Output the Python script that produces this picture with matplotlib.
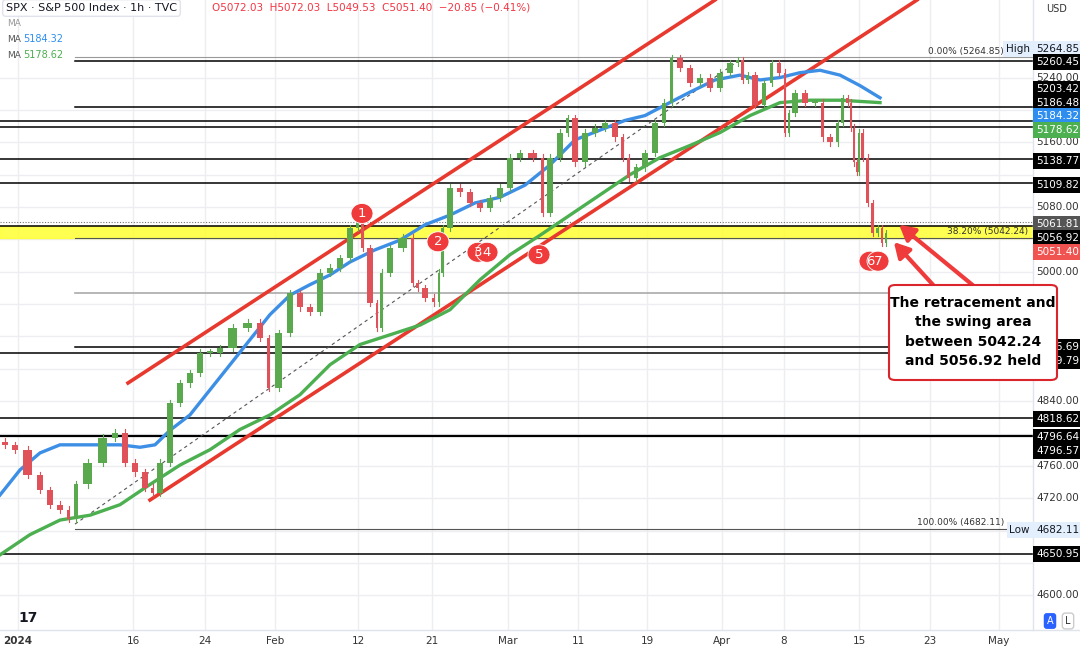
import matplotlib
matplotlib.use("Agg")
import matplotlib.pyplot as plt
from matplotlib.patches import FancyBboxPatch, Ellipse

# x unit = chart slot (about one pixel of the TradingView time axis)
path_x = [0, 10, 20, 35, 45, 55, 65, 72, 80, 95, 110, 120, 130, 140, 150, 155, 165, 175, 185, 195,
          205, 215, 225, 240, 255, 265, 272, 285, 295, 305, 315, 325, 335, 345, 355, 360, 365, 375,
          378, 385, 395, 410, 415, 420, 430, 437, 440, 445, 455, 465, 475, 485, 495, 505, 515, 525,
          540, 545, 555, 565, 570, 580, 590, 600, 610, 620, 625, 632, 640, 650, 660, 668, 675, 685,
          695, 705, 715, 725, 735, 740, 745, 750, 760, 768, 775, 783, 787, 790, 800, 810, 820, 825,
          835, 840, 845, 850, 852, 855, 858, 860, 865, 870, 875, 880, 884, 888]
path_price = [4790, 4786, 4780, 4749, 4730, 4712, 4706, 4694, 4737, 4764, 4795, 4801, 4764, 4752, 4733,
              4727, 4764, 4838, 4862, 4875, 4900, 4900, 4906, 4931, 4937, 4918, 4856, 4924, 4974, 4956,
              4950, 4999, 5005, 5017, 5054, 5060, 5029, 4961, 4931, 4999, 5029, 5042, 4986, 4980, 4968,
              4962, 4999, 5054, 5104, 5098, 5085, 5079, 5091, 5104, 5141, 5147, 5141, 5073, 5141, 5172,
              5190, 5135, 5172, 5178, 5184, 5166, 5141, 5116, 5129, 5147, 5184, 5209, 5264, 5252, 5233,
              5240, 5227, 5246, 5258, 5262, 5237, 5243, 5206, 5233, 5258, 5246, 5172, 5196, 5221, 5209,
              5209, 5166, 5160, 5184, 5215, 5209, 5178, 5135, 5123, 5172, 5141, 5085, 5048, 5054, 5036,
              5048]

ma100_x = [0, 20, 40, 60, 80, 100, 120, 140, 155, 170, 190, 210, 230, 250, 270, 290, 310, 330, 350,
           375, 400, 425, 450, 475, 500, 525, 550, 575, 600, 625, 645, 665, 690, 715, 740, 760, 780,
           800, 820, 840, 860, 880]
ma100 = [4724, 4755, 4776, 4786, 4786, 4786, 4786, 4783, 4786, 4804, 4823, 4854, 4885, 4916, 4947,
         4971, 4984, 4996, 5012, 5027, 5039, 5058, 5070, 5085, 5092, 5107, 5132, 5163, 5175, 5187,
         5193, 5206, 5222, 5237, 5243, 5237, 5240, 5246, 5249, 5243, 5230, 5215]
ma200_x = [0, 30, 60, 90, 120, 150, 180, 210, 240, 270, 300, 330, 360, 390, 420, 450, 480, 510, 540,
           570, 600, 630, 660, 690, 720, 750, 780, 810, 840, 880]
ma200 = [4650, 4675, 4693, 4699, 4712, 4737, 4761, 4780, 4805, 4823, 4848, 4885, 4910, 4922, 4934,
         4953, 4990, 5021, 5045, 5070, 5095, 5120, 5141, 5156, 5172, 5193, 5209, 5212, 5212, 5209]

level_lines = [5260.45, 5203.42, 5186.48, 5178.62, 5138.77, 5109.82, 5056.92,
               4906.69, 4899.79, 4818.62, 4796.64, 4650.95]
fib_high, fib_low = 5264.85, 4682.11
fib_382 = 5042.24
fib_50 = 4973.48
last_close = 5061.81

date_ticks = [18, 133, 205, 275, 358, 432, 508, 578, 647, 722, 784, 859, 930, 999]
date_labels = ["2024", "16", "24", "Feb", "12", "21", "Mar", "11", "19", "Apr", "8", "15", "23", "May"]

axis_ticks = list(range(4600, 5241, 40))
price_tags = [(5264.85, "5264.85", "#e3effd", "#131722"), (5260.45, "5260.45", "black", "white"),
              (5203.42, "5203.42", "black", "white"), (5186.48, "5186.48", "black", "white"),
              (5184.32, "5184.32", "#2d8ef0", "white"), (5178.62, "5178.62", "#4caf50", "white"),
              (5138.77, "5138.77", "black", "white"), (5109.82, "5109.82", "black", "white"),
              (5061.81, "5061.81", "#555555", "white"), (5056.92, "5056.92", "black", "white"),
              (5051.40, "5051.40", "#f05350", "white"), (4906.69, "4906.69", "black", "white"),
              (4899.79, "4899.79", "black", "white"), (4818.62, "4818.62", "black", "white"),
              (4796.64, "4796.64", "black", "white"), (4796.57, "4796.57", "black", "white"),
              (4682.11, "4682.11", "#e3effd", "#131722"), (4650.95, "4650.95", "black", "white")]
tag_pix = [49, 62, 89, 103, 116, 130, 161, 185, 224, 238, 252, 347, 361, 419, 437, 451, 530, 554]

markers = [(362, 5072, "1"), (438, 5037, "2"), (478, 5024, "3"), (487, 5024, "4"),
           (539, 5021, "5"), (870, 5013, "6"), (878, 5013, "7")]

W, H = 1080, 651
fig = plt.figure(figsize=(W / 100, H / 100), dpi=100)
ax = fig.add_axes([0, 21 / H, 1033 / W, 630 / H])
y_top = 5260.45 + 61 / 0.809
y_bot = 5260.45 - 569 / 0.809
ax.set_xlim(0, 1033)
ax.set_ylim(y_bot, y_top)
for s in ax.spines.values():
    s.set_visible(False)
ax.set_xticks([]); ax.set_yticks([])

for t in date_ticks:
    ax.axvline(t, color="#eceef2", lw=1, zorder=0)
for t in axis_ticks:
    ax.axhline(t, color="#eceef2", lw=1, zorder=0)

# yellow swing zone
ax.axhspan(fib_382, 5056.92, color="#ffff33", alpha=0.85, zorder=1)

for lv in level_lines:
    x0 = 75 if lv in (5260.45, 5203.42, 4906.69) else 0
    ax.plot([x0, 1033], [lv, lv], color="black", lw=1.6 if lv == 4796.64 else 1.1, zorder=2)
ax.plot([75, 1033], [fib_high, fib_high], color="#999999", lw=0.8, zorder=2)
ax.plot([75, 1033], [fib_low, fib_low], color="#555555", lw=0.8, zorder=2)
ax.plot([75, 1033], [fib_382, fib_382], color="#555555", lw=0.8, zorder=2)
ax.plot([75, 1033], [fib_50, fib_50], color="#aaaaaa", lw=1.2, zorder=2)
ax.plot([0, 1033], [last_close, last_close], color="#777777", lw=0.8, ls=(0, (1, 1.5)), zorder=2)
ax.text(1004, fib_high + 2, "0.00% (5264.85)", fontsize=6.5, ha="right", va="bottom", color="#333", zorder=3)
ax.text(1028, fib_382 + 2, "38.20% (5042.24)", fontsize=6.5, ha="right", va="bottom", color="#333", zorder=3)
ax.text(1004, fib_low + 2, "100.00% (4682.11)", fontsize=6.5, ha="right", va="bottom", color="#333", zorder=3)

# fib diagonal
ax.plot([75, 740], [4688, 5262], color="#555555", lw=0.8, ls=(0, (3, 3)), zorder=2)

# channel lines (price coords from pixel reads)
def py(y):
    return 5260.45 - (y - 61) / 0.809
ax.plot([128, 715], [py(383), py(0)], color="#e8392f", lw=2.6, zorder=3)
ax.plot([150, 917], [py(500), py(0)], color="#e8392f", lw=2.6, zorder=3)

# moving averages
ax.plot(ma100_x, ma100, color="#3d8fe6", lw=2.4, zorder=4)
ax.plot(ma200_x, ma200, color="#4caf50", lw=2.4, zorder=4)

# candles
for i in range(1, len(path_x)):
    o, c = path_price[i - 1], path_price[i]
    x = (path_x[i - 1] + path_x[i]) / 2
    wd = max((path_x[i] - path_x[i - 1]) * 0.55, 2)
    col = "#5aa94f" if c >= o else "#e0525a"
    hi, lo = max(o, c) + 4, min(o, c) - 4
    ax.plot([x, x], [lo, hi], color=col, lw=0.8, zorder=5)
    ax.bar(x, max(abs(c - o), 1.5), bottom=min(o, c), width=wd, color=col, zorder=5)

for x, y, s in markers:
    ax.add_patch(Ellipse((x, y), 22, 20 / 0.809, fc="#ef3b3b", ec="white", lw=0.6, zorder=7))
    ax.text(x, y, s, color="white", fontsize=9.5, ha="center", va="center", zorder=8)

# callout
ax.annotate("", xy=(897, py(223)), xytext=(975, py(287)),
            arrowprops=dict(arrowstyle="-|>,head_width=0.5,head_length=0.9", color="#ef3b3b", lw=3), zorder=9)
ax.annotate("", xy=(892, py(240)), xytext=(935, py(287)),
            arrowprops=dict(arrowstyle="-|>,head_width=0.5,head_length=0.9", color="#ef3b3b", lw=3), zorder=9)

# right price axis
fig.add_artist(plt.Line2D([1033 / W, 1033 / W], [21 / H, 1], color="#e0e3eb", lw=1))
fig.add_artist(plt.Line2D([0, 1], [21 / H, 21 / H], color="#e0e3eb", lw=1))
for t in axis_ticks:
    yp = 61 + (5260.45 - t) * 0.809
    if min(abs(yp - p) for p in tag_pix) < 11 or 280 < yp < 385:
        continue
    fig.text(1036 / W, 1 - yp / H, f"{t:.2f}", fontsize=7.5, color="#333", va="center", ha="left")
for (v, lab, bg, fg), yp in zip(price_tags, tag_pix):
    fig.text(1036 / W, 1 - yp / H, lab, fontsize=7.5, color=fg, va="center", ha="left", zorder=5,
             bbox=dict(boxstyle="square,pad=0.25", fc=bg, ec="none"))
fig.text(1030 / W, 1 - 49 / H, "High", fontsize=7.5, color="#131722", va="center", ha="right",
         bbox=dict(boxstyle="square,pad=0.25", fc="#e3effd", ec="none"))
fig.text(1030 / W, 1 - 530 / H, "Low", fontsize=7.5, color="#131722", va="center", ha="right",
         bbox=dict(boxstyle="square,pad=0.25", fc="#e3effd", ec="none"))

fig.patches.append(FancyBboxPatch((889 / W, 1 - 380 / H), 168 / W, 95 / H,
                                  boxstyle="round,pad=0,rounding_size=0.006", transform=fig.transFigure,
                                  fc="white", ec="#d9252b", lw=1.5, zorder=10))
fig.text(973 / W, 1 - 332 / H, "The retracement and\nthe swing area\nbetween 5042.24\nand 5056.92 held",
         ha="center", va="center", fontsize=10, fontweight="bold", linespacing=1.5, zorder=11)

fig.text(1046 / W, 1 - 9 / H, "USD", fontsize=7, color="#333", va="center")
fig.text(1050 / W, 1 - 621 / H, "A", fontsize=7, color="white", ha="center", va="center",
         bbox=dict(boxstyle="round,pad=0.3", fc="#2962ff", ec="none"))
fig.text(1068 / W, 1 - 621 / H, "L", fontsize=7, color="#333", ha="center", va="center",
         bbox=dict(boxstyle="round,pad=0.3", fc="white", ec="#ccc"))

# date axis
for t, lab in zip(date_ticks, date_labels):
    fig.text(t / W, 1 - 641 / H, lab, fontsize=7.5, ha="center", va="center", color="#333",
             fontweight="bold" if lab == "2024" else "normal")

# header
fig.text(6 / W, 1 - 8 / H, "SPX · S&P 500 Index · 1h · TVC", fontsize=8, color="#131722", va="center",
         bbox=dict(boxstyle="round,pad=0.3", fc="white", ec="#e0e3eb"))
fig.text(212 / W, 1 - 8 / H, "O5072.03  H5072.03  L5049.53  C5051.40  −20.85 (−0.41%)",
         fontsize=7.5, color="#f23645", va="center")
fig.text(7 / W, 1 - 23 / H, "MA", fontsize=6.5, color="#999", va="center")
fig.text(7 / W, 1 - 39 / H, "MA", fontsize=6.5, color="#555", va="center")
fig.text(23 / W, 1 - 39 / H, "5184.32", fontsize=7, color="#2d8ef0", va="center")
fig.text(7 / W, 1 - 55 / H, "MA", fontsize=6.5, color="#555", va="center")
fig.text(23 / W, 1 - 55 / H, "5178.62", fontsize=7, color="#4caf50", va="center")
fig.text(18 / W, 1 - 618 / H, "17", fontsize=10, fontweight="bold", color="#131722", va="center")

fig.savefig("out.png", dpi=100, facecolor="white")
